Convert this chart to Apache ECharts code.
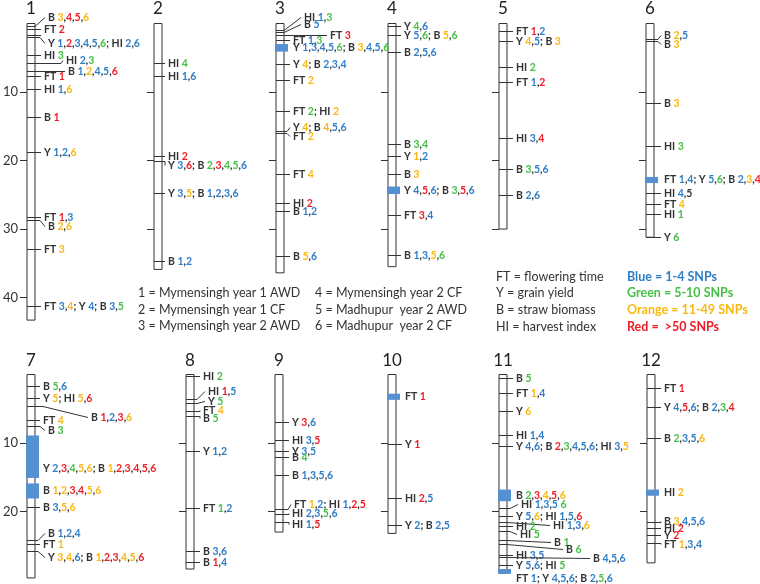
<!DOCTYPE html>
<html>
<head>
<meta charset="utf-8">
<script src="https://cdn.jsdelivr.net/npm/echarts@6/dist/echarts.min.js"></script>
<style>
html, body { margin: 0; padding: 0; background: #fff; }
#chart { width: 760px; height: 584px; }
</style>
</head>
<body>
<div id="chart"></div>
<script>
// chromosomes (rice), length in Mb
const chromNames = ['1', '2', '3', '4', '5', '6', '7', '8', '9', '10', '11', '12'];
const chromLengths = [43.3, 35.9, 36.4, 35.5, 30.0, 31.2, 29.7, 28.4, 23.0, 23.2, 29.0, 27.5];
const axisTicks = [10, 20, 30, 40];
const labelledChroms = [0, 6];

// associations: [position Mb, label]; "3o" = environment 3, SNP class o
// classes: b = 1-4, g = 5-10, o = 11-49, r = >50 SNPs, k = unclassed
const markers = [
  [[0.3, 'B 3o,4r,5r,6o'], [0.8, 'FT 2r'], [1.7, ''], [2.0, 'Y 1b,2r,3b,4b,5b,6g; HI 2b,6b'],
   [4.6, 'HI 3g'], [5.7, 'HI 2b,3g'], [7.0, 'B 1b,2o,4b,5b,6r'], [7.7, 'FT 1r'], [9.5, 'HI 1b,6o'],
   [13.7, 'B 1r'], [18.8, 'Y 1b,2b,6o'], [28.2, 'FT 1r,3b'], [28.7, 'B 2o,6o'], [32.9, 'FT 3o'],
   [41.3, 'FT 3b,4o; Y 4b; B 3b,5g']],
  [[5.8, 'HI 4g'], [7.6, 'HI 1b,6b'], [19.4, 'HI 2r'], [20.1, 'Y 3b,6r; B 2g,3r,4g,5g,6b'],
   [24.8, 'Y 3b,5o; B 1b,2b,3b,6b'], [34.7, 'B 1b,2b']],
  [[0.9, 'HI 1b,3g'], [1.2, 'B 5b'], [1.65, 'FT 3r'], [2.4, 'FT 1b,3g'], [5.9, 'Y 4o; B 2b,3b,4b'],
   [8.2, 'FT 2o'], [12.8, 'FT 2g; HI 2o'], [15.7, 'Y 4o; B 4o,5b,6b'], [16.0, 'FT 2o'],
   [22.0, 'FT 4o'], [26.2, 'HI 2r'], [27.4, 'B 1b,2b'], [33.9, 'B 5o,6b']],
  [[0.3, 'Y 4g,6b'], [1.75, 'Y 5b,6g; B 5o,6g'], [4.2, 'B 2b,5b,6b'], [17.6, 'B 3g,4g'],
   [19.3, 'Y 1o,2b'], [22.0, 'B 3o'], [27.9, 'FT 3r,4b'], [33.8, 'B 1b,3b,5o,6g']],
  [[1.1, 'FT 1r,2b'], [2.6, 'Y 4o,5b; B 3o'], [6.3, 'HI 2g'], [8.6, 'FT 1b,2r'], [16.7, 'HI 3b,4r'],
   [21.3, 'B 3g,5b,6b'], [25.1, 'B 2b,6b']],
  [[2.3, 'B 2o,5b'], [2.6, 'B 3o'], [11.6, 'B 3o'], [17.9, 'HI 3g'], [24.8, 'HI 4b,5k'],
   [26.4, 'FT 4o'], [27.8, 'HI 1g'], [31.1, 'Y 6g']],
  [[1.7, 'B 5g,6b'], [3.5, 'Y 5o; HI 5o,6r'], [4.6, 'B 1r,2b,3r,6o'], [6.7, 'FT 4o'], [7.5, 'B 3g'],
   [19.3, 'B 3b,5o,6o'], [24.1, 'B 1b,2b,4b'], [24.7, 'FT 1o'], [25.7, 'Y 3o,4o,6b; B 1o,2r,3r,4o,5o,6r']],
  [[0.2, 'HI 2g'], [3.6, 'HI 1r,5b'], [4.1, 'Y 5g'], [5.3, 'FT 4o'], [6.0, 'B 5g'], [11.2, 'Y 1b,2b'],
   [19.5, 'FT 1g,2b'], [25.8, 'B 3b,6b'], [27.4, 'B 1r,4b']],
  [[7.0, 'Y 3r,6b'], [9.5, 'HI 3b,5r'], [11.1, 'Y 3b,5b'], [12.1, 'B 4g'], [14.6, 'B 1b,3b,5b,6b'],
   [19.6, 'FT 1o,2b; HI 1b,2r,5r'], [20.3, 'HI 2b,3b,5g,6b'], [21.6, 'HI 1b,5r']],
  [[10.1, 'Y 1r'], [18.0, 'HI 2r,5b'], [22.0, 'Y 2b; B 2b,5b']],
  [[0.5, 'B 5g'], [2.7, 'FT 1o,4b'], [5.4, 'Y 6o'], [8.8, 'HI 1b,4b'],
   [10.5, 'Y 4b,6b; B 2r,3g,4b,5b,6b; HI 3b,5o'], [19.5, 'HI 1b,3b,5b 6g'],
   [20.6, 'Y 5b,6o; HI 1b,5b,6r'], [21.6, 'HI 1b,3b,6o'], [22.1, 'HI 2g'], [22.8, 'HI 5g'],
   [24.1, 'B 1g'], [24.7, 'B 6g'], [26.3, 'HI 3b,5b'], [26.7, 'B 4b,5b,6b'], [27.8, 'Y 5b,6b; HI 5g']],
  [[1.9, 'FT 1r'], [4.8, 'Y 4b,5r,6b; B 2b,3g,4r'], [9.2, 'B 2g,3b,5b,6o'], [21.5, 'B 3o,4b,5b,6b'],
   [22.4, 'HI 2r'], [23.5, 'Y 2r'], [24.6, 'FT 1o,3b,4b']]
];

// wide regions: [start Mb, end Mb, label]
const blocks = [
  [], [],
  [[3.0, 4.1, 'Y 1b,3b,4b,5b,6g; B 3o,4b,5b,6g']],
  [[23.8, 24.9, 'Y 4b,5r,6b; B 3g,5r,6b']],
  [],
  [[22.4, 23.3, 'FT 1b,4b; Y 5b,6g; B 2b,3o,4r']],
  [[8.9, 15.1, 'Y 2b,3r,4g,5o,6o; B 1o,2r,3r,4r,5r,6r'], [15.9, 18.1, 'B 1o,2o,3r,4r,5o,6o']],
  [], [],
  [[2.8, 3.7, 'FT 1r']],
  [[16.8, 18.5, 'B 2g,3r,4o,5r,6o'], [28.4, 29.1, 'FT 1b; Y 4b,5b,6b; B 2b,5g,6b']],
  [[16.8, 17.7, 'HI 2o']]
];

const envLegend = ['1 = Mymensingh year 1 AWD', '2 = Mymensingh year 1 CF', '3 = Mymensingh year 2 AWD',
  '4 = Mymensingh year 2 CF', '5 = Madhupur  year 2 AWD', '6 = Madhupur  year 2 CF'];
const traitLegend = ['FT = flowering time', 'Y = grain yield', 'B = straw biomass', 'HI = harvest index'];
const snpLegend = ['Blue = 1-4 SNPs', 'Green = 5-10 SNPs', 'Orange = 11-49 SNPs', 'Red =  >50 SNPs'];

// ---- layout / style ----
const chromX = [27, 154, 276, 388, 499, 646, 27, 186, 275, 388, 499, 647];
const labelGap = [9, 6, 9, 8, 9, 10, 8, 9, 9, 9, 9, 9];
const rowTop = [23.5, 374.5];
const pxPerMb = 6.85;
const chromW = 8;
const classColor = { b: '#2e7dc8', g: '#45bf45', o: '#f9b811', r: '#ee1c24', k: '#333333' };
const snpColors = [classColor.b, classColor.g, classColor.o, classColor.r];
const labelFont = 'bold 10.5px Lato';
const ink = '#333333';

// leader lines: 'chrom:index' -> [knee dx, end dx, end dy] (px from chromosome right edge)
const leaders = {
  '0:0': [0, 10, -9], '0:3': [5, 10, 6], '0:5': [26, 28, -3], '0:6': [30, 30, 0], '0:12': [5, 10, 6],
  '1:3': [3, 3, 4],
  '2:0': [0, 17, -13], '2:1': [0, 17, -8], '2:2': [43, 43, 0], '2:7': [3, 6, -4], '2:8': [3, 6, 3],
  '5:0': [4, 7, -4], '5:1': [4, 7, 3],
  '6:2': [8, 53, 11], '6:4': [5, 10, 4], '6:6': [3, 10, -7], '6:8': [3, 10, 6],
  '7:1': [3, 11, -8], '7:2': [3, 11, -2], '7:3': [6, 6, -1], '7:4': [6, 6, 2],
  '8:5': [5, 8, -5], '8:6': [6, 6, -1], '8:7': [6, 6, 2],
  '10:5': [3, 11, -4], '10:7': [0, 43, 3], '10:9': [3, 10, 3], '10:10': [0, 44, 2],
  '10:11': [0, 56, 5], '10:13': [0, 83, 1],
  '11:3': [6, 6, -1], '11:6': [6, 6, 1]
};
const blockLabelNudge = { '6:0': 12, '10:1': 7 };

const rich = {};
Object.keys(classColor).forEach(k => { rich[k] = { fill: classColor[k], font: labelFont }; });

function labelStyle(text) {
  return {
    text: text.replace(/(\d)([bgork])/g, '{$2|$1}'),
    rich: rich,
    font: labelFont,
    fill: ink,
    align: 'left',
    verticalAlign: 'middle'
  };
}

function markerRenderer(c) {
  return function (params, api) {
    const k = params.dataIndex;
    const pos = api.value(1);
    const a = api.coord([0, pos]);
    const b = api.coord([1, pos]);
    const y = Math.round(a[1]) + 0.5;
    const g = labelGap[c] - 3;
    const lay = leaders[c + ':' + k] || [g, g, 0];
    const x1 = b[0];
    const children = [{
      type: 'polyline',
      shape: { points: [[a[0], y], [x1 + lay[0], y], [x1 + lay[1], y + lay[2]]] },
      style: { stroke: ink, lineWidth: 1, fill: null }
    }];
    const text = markers[c][k][1];
    if (text) {
      children.push({ type: 'text', x: x1 + lay[1] + 3, y: y + lay[2], style: labelStyle(text) });
    }
    return { type: 'group', children: children };
  };
}

function blockRenderer(c) {
  return function (params, api) {
    const k = params.dataIndex;
    const s = api.coord([0, api.value(1)]);
    const e = api.coord([1, api.value(2)]);
    const dy = blockLabelNudge[c + ':' + k] || 0;
    return {
      type: 'group',
      children: [
        { type: 'rect', shape: { x: s[0] - 1, y: s[1], width: e[0] - s[0] + 5, height: e[1] - s[1] },
          style: { fill: '#5590d0' } },
        { type: 'text', x: e[0] + labelGap[c], y: (s[1] + e[1]) / 2 + dy, style: labelStyle(blocks[c][k][2]) }
      ]
    };
  };
}

const chart = echarts.init(document.getElementById('chart'));
const grids = [], xAxes = [], yAxes = [], series = [];

chromNames.forEach((name, i) => {
  const L = chromLengths[i];
  const row = i < 6 ? 0 : 1;
  const ticks = axisTicks.filter(v => v <= L + 0.01);
  grids.push({
    left: chromX[i], top: rowTop[row], width: chromW, height: L * pxPerMb,
    show: true, borderColor: ink, borderWidth: 1, backgroundColor: '#fff',
    outerBoundsMode: 'none'
  });
  xAxes.push({
    gridIndex: i, type: 'value', min: 0, max: 1, position: 'top',
    name: name, nameLocation: 'middle', nameGap: row === 0 ? 6 : 5,
    nameTextStyle: { fontFamily: 'Lato', fontSize: 17, color: '#222' },
    axisLine: { show: false }, axisTick: { show: false }, axisLabel: { show: false },
    splitLine: { show: false }
  });
  yAxes.push({
    gridIndex: i, type: 'value', inverse: true, min: 0, max: L,
    axisLine: { show: false }, splitLine: { show: false },
    axisTick: { show: true, inside: false, length: 7, customValues: ticks, lineStyle: { color: ink } },
    axisLabel: {
      show: labelledChroms.indexOf(i) >= 0, customValues: ticks, margin: 9,
      fontFamily: 'Lato', fontSize: 13, color: ink
    }
  });
  series.push({
    type: 'custom', xAxisIndex: i, yAxisIndex: i, silent: true, clip: false,
    data: markers[i].map(m => [0.5, m[0]]),
    renderItem: markerRenderer(i)
  });
  series.push({
    type: 'custom', xAxisIndex: i, yAxisIndex: i, silent: true, clip: false,
    data: blocks[i].map(b => [0.5, b[0], b[1]]),
    renderItem: blockRenderer(i)
  });
});

// legend texts
const legendFont = '12.5px Lato';
const graphics = [];
envLegend.forEach((t, k) => {
  graphics.push({ type: 'text', x: k < 3 ? 138 : 315, y: 293 + (k % 3) * 16.5,
    style: { text: t, font: legendFont, fill: ink, verticalAlign: 'middle' } });
});
traitLegend.forEach((t, k) => {
  graphics.push({ type: 'text', x: 496, y: 276.5 + k * 16.8,
    style: { text: t, font: legendFont, fill: ink, verticalAlign: 'middle' } });
});
snpLegend.forEach((t, k) => {
  graphics.push({ type: 'text', x: 627, y: 276.5 + k * 16.8,
    style: { text: t, font: 'bold 12.5px Lato', fill: snpColors[k], verticalAlign: 'middle' } });
});

chart.setOption({
  animation: false,
  grid: grids,
  xAxis: xAxes,
  yAxis: yAxes,
  series: series,
  graphic: graphics
});
</script>
</body>
</html>
